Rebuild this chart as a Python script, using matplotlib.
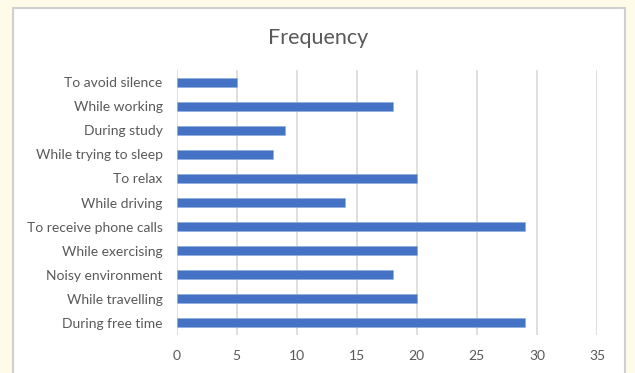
import matplotlib
matplotlib.use("Agg")
import matplotlib.pyplot as plt
from matplotlib.patches import Rectangle

categories = [
    "To avoid silence",
    "While working",
    "During study",
    "While trying to sleep",
    "To relax",
    "While driving",
    "To receive phone calls",
    "While exercising",
    "Noisy environment",
    "While travelling",
    "During free time",
]
values = [5, 18, 9, 8, 20, 14, 29, 20, 18, 20, 29]
x_ticks = [0, 5, 10, 15, 20, 25, 30, 35]
title = "Frequency"

plt.rcParams["font.family"] = ["Lato", "DejaVu Sans"]
text_color = "#595959"

W, H = 635, 373
fig = plt.figure(figsize=(W / 100, H / 100), dpi=100)
fig.patch.set_facecolor("#FFFBE9")

# white chart panel with a thin gray frame, placed behind the plot
panel = Rectangle((13 / W, -0.05), (625 - 13) / W, 1.05 - 8 / H,
                  transform=fig.transFigure, facecolor="white",
                  edgecolor="#D0D0D0", linewidth=1.5, zorder=-10)
fig.patches.append(panel)

ax = fig.add_axes([176.5 / W, 1 - 335 / H, (597 - 176.5) / W, (335 - 70) / H])
ax.set_facecolor("none")
ax.set_zorder(1)

ypos = list(range(len(categories)))
ax.barh(ypos, values, height=0.37, color="#4472C4", edgecolor="#8FAADC",
        linewidth=0.4, zorder=3)

ax.set_ylim(len(categories) - 0.5, -0.5)
ax.set_xlim(0, 35)
ax.set_xticks(x_ticks)
ax.set_xticklabels([str(t) for t in x_ticks])
ax.set_yticks(ypos)
ax.set_yticklabels(categories)

ax.grid(axis="x", color="#D9D9D9", linewidth=1.2, zorder=0)
ax.set_axisbelow(True)
for s in ax.spines.values():
    s.set_visible(False)
ax.tick_params(axis="both", length=0, labelsize=10, labelcolor=text_color)
ax.tick_params(axis="y", pad=10)
ax.tick_params(axis="x", pad=11)

fig.text(318 / W, 1 - 38 / H, title, ha="center", va="center",
         fontsize=15.5, color=text_color)

fig.savefig("out.png", dpi=100, facecolor=fig.get_facecolor())
